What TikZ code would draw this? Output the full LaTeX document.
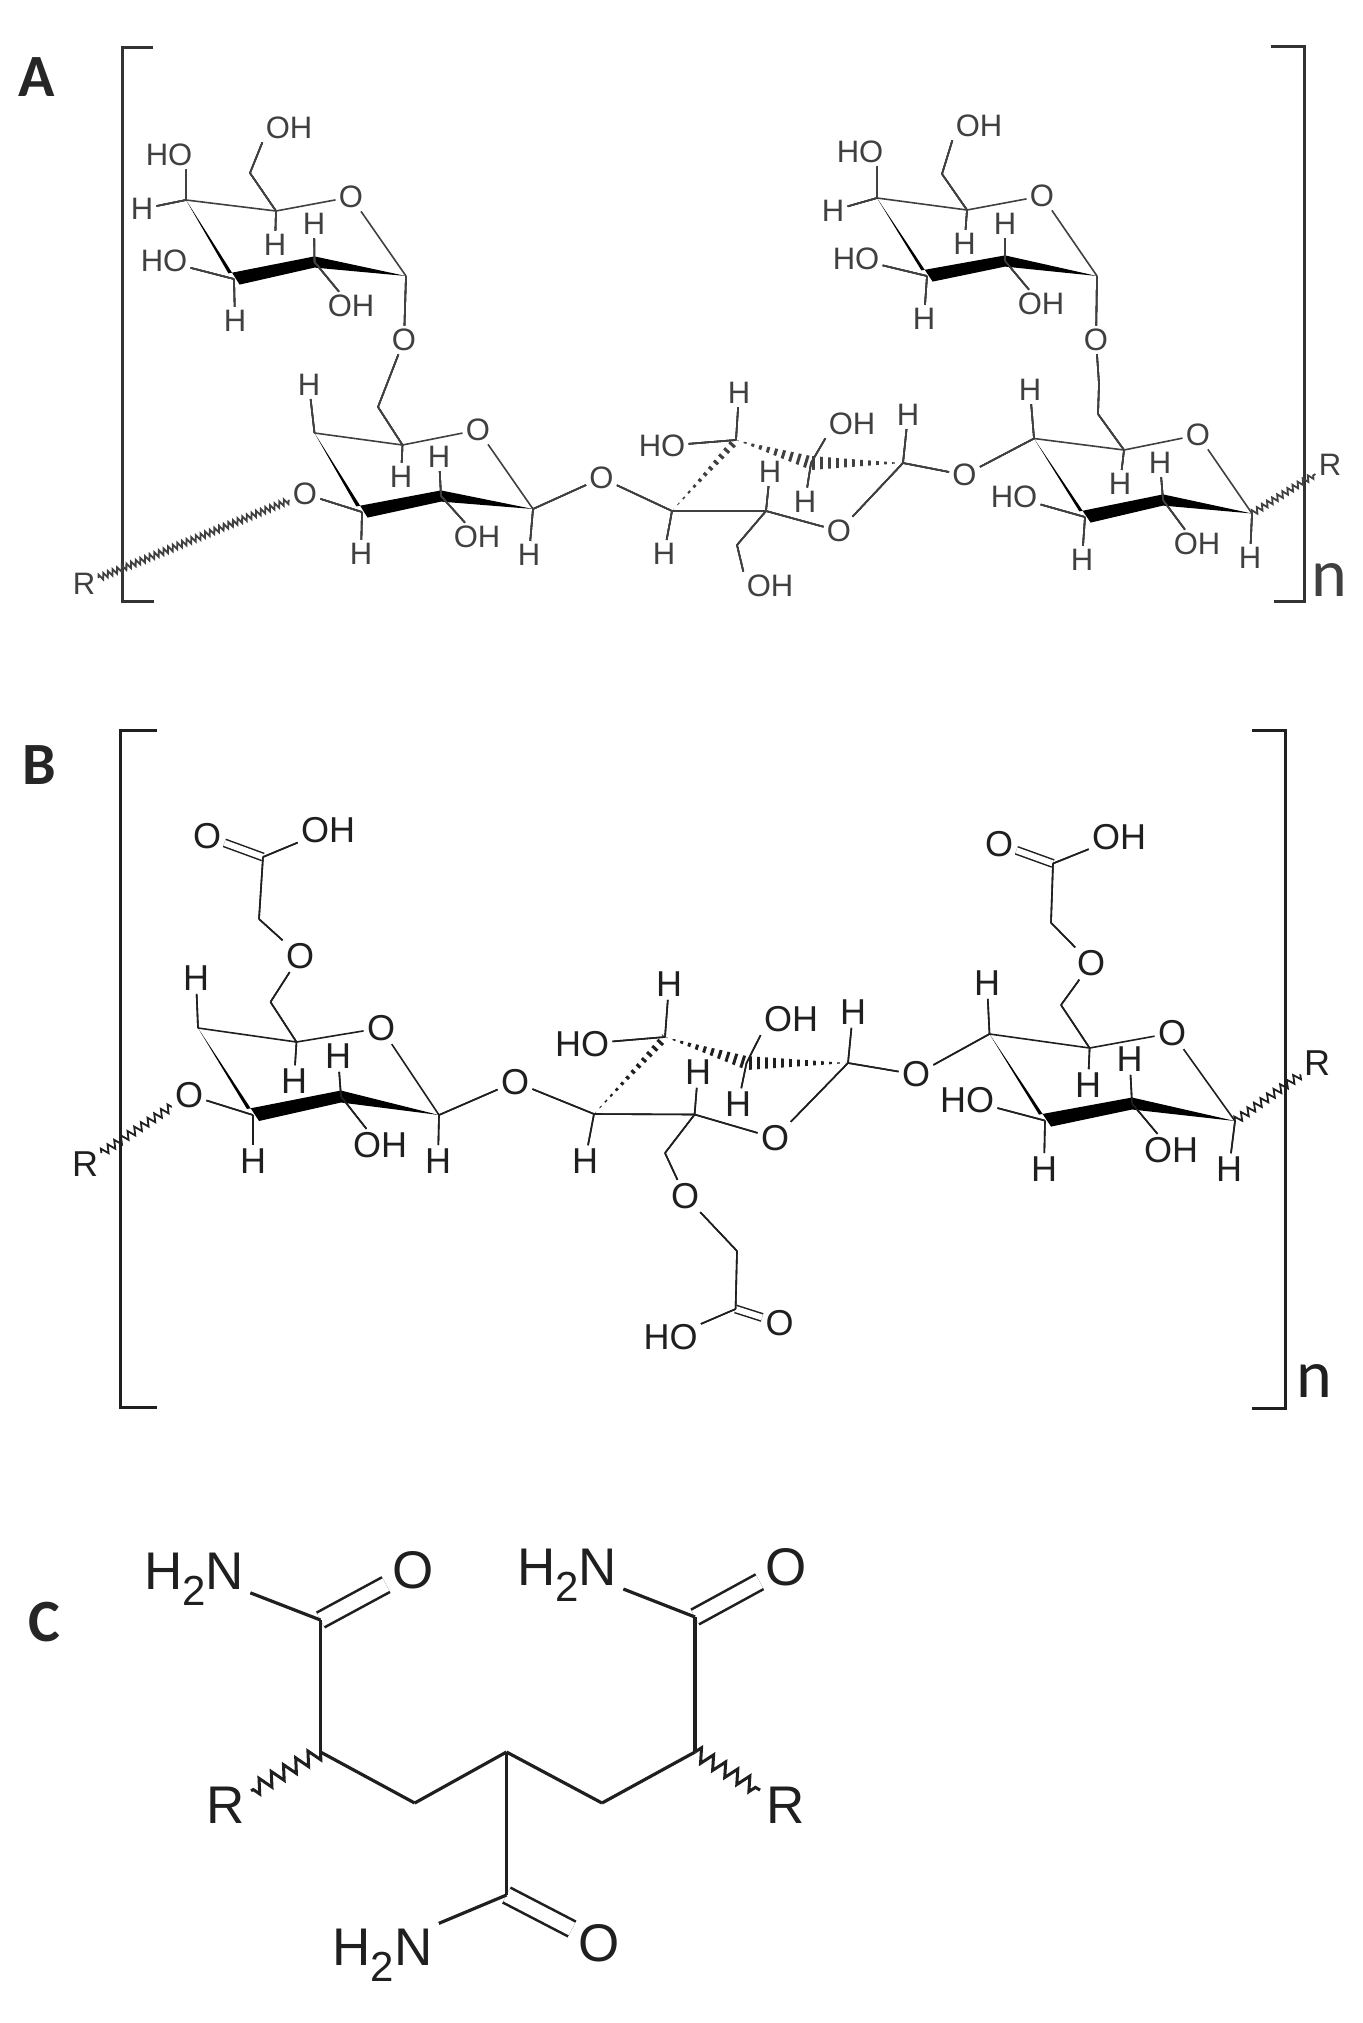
\documentclass[tikz,border=0pt]{standalone}
\usepackage{fontspec}
\usepackage{xcolor}
\usetikzlibrary{calc,decorations.pathmorphing}
\setmainfont{Liberation Sans}
\newfontfamily\panelfont{Carlito}
\colorlet{inka}{black!75}
\colorlet{inkb}{black!88}
\tikzset{
  atoma/.style={inner sep=1.5pt,font=\fontsize{15.5}{16}\selectfont},
  atomb/.style={inner sep=1.5pt,font=\fontsize{18}{19}\selectfont},
  atomc/.style={inner sep=3pt,font=\fontsize{26.5}{27}\selectfont},
  panel/.style={inner sep=0pt,text=black!85,font=\panelfont\bfseries\fontsize{30}{31}\selectfont},
  repeat/.style={inner sep=0pt,font=\panelfont\fontsize{34}{35}\selectfont},
  bond/.style={line width=.8pt},
  boldbond/.style={line width=1.6pt},
  dbond/.style={double=white,double distance=3pt,line width=.75pt},
  wavy/.style={decorate,decoration={zigzag,segment length=3pt,amplitude=1.5pt},line width=.9pt},
  bracket/.style={line width=1.5pt}
}
% back edges and tapered front edge of a ring
\newcommand{\sugarring}[2]{
  \draw[bond] (#1c4) -- (#1c5) -- (#1o);
  \draw[bond] (#1o) -- (#1c1);
  \fill[black] (#1c4) -- ([xshift=-#2,yshift=#2]#1c3) -- ([yshift=#2]#1c2) -- (#1c1)
    -- ([yshift=-#2]#1c2) -- ([xshift=#2,yshift=-#2]#1c3) -- cycle;
}
\newcommand{\hashbond}[3]{
  \begin{scope}
    \clip (#1) -- ([yshift=#3]#2) -- ([yshift=-#3]#2) -- cycle;
    \draw[line width=9pt,dash pattern=on 1.5pt off 2.5pt] (#1) -- (#2);
  \end{scope}
}
\newcommand{\amine}{H\smash{\raisebox{-.3em}{\fontsize{21}{21}\selectfont 2}}N}
\begin{document}
\begin{tikzpicture}[x=.5pt,y=-.5pt]
\useasboundingbox (0,0) rectangle (1363,2023);
\node[panel] (pa) at (37,77) {A};
\node[panel] (pb) at (39,765) {B};
\node[panel] (pc) at (44,1622) {C};

% A
\begin{scope}[color=inka]
\draw[bracket,black!80] (153,48) -- (122,48) -- (122,601) -- (154,601);
\draw[bracket,black!80] (1271,47) -- (1304,47) -- (1304,601) -- (1274,601);
\node[repeat] (na) at (1329,580) {n};
\foreach \n/\x/\y in {a1c1/406/276,a1c2/314.5/262,a1c3/234/279,a1c4/186/200,a1c5/276/211,a1m/250/173,
  a2c1/533/509,a2c2/441/496,a2c3/362/512,a2c4/314.5/433,a2c5/402.5/445,a2m/378/407,
  a3c1/672/511,a3c2/766/511,a3c3/903/463,a3c4/736/440,a3c5/811/463,a3m/737/545,
  a4c1/1252/513.5,a4c2/1163/500,a4c3/1085/517,a4c4/1034/438.5,a4c5/1124/450,a4m/1098/414,a4q/1099/384,
  a5c1/1097/276,a5c2/1005/261,a5c3/927/276,a5c4/877/198,a5c5/967/210,a5m/942/174}
  \coordinate (\n) at (\x,\y);
\foreach \n/\x/\y/\t in {a1o/351/197/O,a1ho/169/155/HO,a1oh/289/128/OH,a1h4/142/209/H,a1h5/275/245/H,
  a1h2/314/224/H,a1ho3/164/261/HO,a1h3/235/321/H,a1oh2/351/306/OH,a1l/404/340/O,
  a2o/478/430/O,a2h4/309/385/H,a2h5/401/477/H,a2h2/439/457/H,a2ol/305/494/O,a2rg/84/584/R,
  a2h3/361/554/H,a2oh/477/537/OH,a2h1/529/555/H,a2l/601.5/478/O,
  a3ho/662/446/HO,a3h4/739/393/H,a3oh/852/424/OH,a3h3/908/415/H,a3h2/770/472/H,a3h5/805/501.5/H,
  a3h1/664/554/H,a3oh2/770/586/OH,a3o/839/531/O,a3l/964.5/475/O,
  a4o/1198/435/O,a4h4/1030/390/H,a4h5/1120/484/H,a4h2/1160/463/H,a4ho/1014/497/HO,a4h3/1082/560/H,
  a4oh/1197/544/OH,a4h1/1250/558/H,a4rg/1330/465/R,a4l/1096/340/O,
  a5o/1042/196/O,a5ho/860/152/HO,a5oh/979/126/OH,a5h4/833/210.5/H,a5h5/964.5/244/H,a5h2/1005/224/H,
  a5ho3/856/259/HO,a5h3/924/319/H,a5oh2/1041/304/OH}
  \node[atoma] (\n) at (\x,\y) {\t};
\foreach \r in {a1,a2,a4,a5}
  \sugarring{\r}{2.8pt}
\foreach \a/\b in {a1c4/a1ho.-40,a1c4/a1h4,a1c5/a1m,a1m/a1oh.south west,a1c5/a1h5,a1c2/a1h2,a1c3/a1ho3,a1c3/a1h3,
  a1c2/a1oh2.130,a1c1/a1l,a1l/a2m,a2m/a2c5,a2c4/a2h4,a2c5/a2h5,a2c2/a2h2,a2c3/a2ol,a2c3/a2h3,a2c2/a2oh.130,
  a2c1/a2h1,a2c1/a2l,a2l/a3c1,a3c1/a3c2,a3c2/a3o,a3o/a3c3,a3c3/a3l,a3l/a4c4,a3c1/a3h1,a3c2/a3h2,
  a3c2/a3m,a3m/a3oh2.north west,a3c4/a3h4,a3c4/a3ho,a3c5/a3oh.south west,a3c5/a3h5,a3c3/a3h3,
  a4c4/a4h4,a4c5/a4h5,a4c2/a4h2,a4c3/a4ho,a4c3/a4h3,a4c2/a4oh.130,a4c1/a4h1,a4c5/a4m,a4m/a4q,a4q/a4l,
  a5c1/a4l,a5c4/a5ho.-40,a5c4/a5h4,a5c5/a5m,a5m/a5oh.south west,a5c5/a5h5,a5c2/a5h2,a5c3/a5ho3,a5c3/a5h3,a5c2/a5oh2.130}
  \draw[bond] (\a) -- (\b);
\hashbond{a3c1}{a3c4}{3pt}
\hashbond{a3c4}{a3c5}{3.5pt}
\hashbond{a3c3}{a3c5}{3.5pt}
\draw[wavy,decoration={segment length=2.5pt}] (a2rg) -- (a2ol);
\draw[wavy] (a4c1) -- (a4rg);
\end{scope}

% B
\begin{scope}[color=inkb]
\draw[bracket] (157,730) -- (120.5,730) -- (120.5,1407) -- (157,1407);
\draw[bracket] (1252,730) -- (1285.5,730) -- (1285.5,1408) -- (1252,1408);
\node[repeat] (nb) at (1314,1381) {n};
\foreach \n/\x/\y in {b1c1/439/1115,b1c2/341/1096.5,b1c3/253/1115,b1c4/198/1028,b1c5/296.5/1042,
  b1m/270.5/1002,b1q/259/919,b1k/263/857,
  b3c1/594/1114,b3c2/694.6/1114.5,b3c3/848/1063,b3c4/665/1037,b3c5/746.5/1063,b3m/665/1153,b3q/737/1251,b3k/735.6/1309,
  b4c1/1235/1121,b4c2/1132/1103.5,b4c3/1045/1120.6,b4c4/989.5/1034,b4c5/1089.6/1048,
  b4m/1061/1005,b4q/1051/922.7,b4k/1053/863.5}
  \coordinate (\n) at (\x,\y);
\foreach \n/\x/\y/\t in {b1o/381/1028/O,b1e/300/956/O,b1h4/196/978/H,b1h5/294/1081/H,b1h2/338/1056/H,b1ol/189/1095/O,
  b1rg/85/1164/R,b1h3/253/1161/H,b1oh/380/1145/OH,b1h1/438/1161/H,b1l/515/1082/O,b1o2/207/836.5/O,b1oh2/328/830/OH,
  b3ho/582/1044/HO,b3h4/669/984/H,b3oh/791/1019/OH,b3h3/853/1012/H,b3h2/698/1072/H,b3h5/738/1104/H,b3h1/585/1161/H,
  b3o/775/1138/O,b3e/685/1196/O,b3o2/779.5/1323/O,b3ho2/670.5/1337/HO,b3l/916/1074.5/O,
  b4o/1172/1033/O,b4e/1091/963.5/O,b4h4/987/983/H,b4h5/1088/1085/H,b4h2/1129.7/1059/H,b4ho/967/1100/HO,b4h3/1044/1169/H,
  b4oh/1171/1150/OH,b4h1/1229/1169/H,b4rg/1317/1063/R,b4o2/999/844/O,b4oh2/1119/837/OH}
  \node[atomb] (\n) at (\x,\y) {\t};
\foreach \a/\b in {b1k/b1o2,b3k/b3o2,b4k/b4o2}
  \draw[dbond] (\a) -- (\b);
\foreach \r in {b1,b4}
  \sugarring{\r}{3pt}
\foreach \a/\b in {b1k/b1oh2,b1k/b1q,b1q/b1e,b1e/b1m,b1m/b1c5,b1c4/b1h4,b1c5/b1h5,b1c2/b1h2,b1c3/b1ol,b1c3/b1h3,
  b1c2/b1oh.130,b1c1/b1h1,b1c1/b1l,b1l/b3c1,b3c1/b3c2,b3c2/b3o,b3o/b3c3,b3c3/b3l,b3l/b4c4,b3c1/b3h1,b3c2/b3h2,
  b3c2/b3m,b3m/b3e,b3e/b3q,b3q/b3k,b3k/b3ho2,b3c4/b3h4,b3c4/b3ho,b3c5/b3oh.south west,b3c5/b3h5,b3c3/b3h3,
  b4c4/b4h4,b4c5/b4h5,b4c2/b4h2,b4c3/b4ho,b4c3/b4h3,b4c2/b4oh.130,b4c1/b4h1,b4c5/b4m,b4m/b4e,b4e/b4q,b4q/b4k,b4k/b4oh2}
  \draw[bond] (\a) -- (\b);
\hashbond{b3c1}{b3c4}{3pt}
\hashbond{b3c4}{b3c5}{3.5pt}
\hashbond{b3c3}{b3c5}{3.5pt}
\draw[wavy,decoration={segment length=4pt,amplitude=2pt}] (b1rg) -- (b1ol);
\draw[wavy,decoration={segment length=4pt,amplitude=2pt}] (b4c1) -- (b4rg);
\end{scope}

% C
\begin{scope}[color=inkb]
\foreach \n/\x/\y in {cc1/320.5/1620,cw1/320.5/1752,cm1/414.7/1803,cc/506.5/1752,cm2/602/1803,cw2/695/1752,cc2/695/1617,cc3/506.5/1895}
  \coordinate (\n) at (\x,\y);
\foreach \n/\x/\y/\t in {cn1/194/1571/\amine,co1/413/1570/O,cn2/567/1567/\amine,co2/786.6/1567/O,
  cr1/225.5/1805/R,cr2/785.6/1805/R,cn3/382.5/1947/\amine,co3/599/1943/O}
  \node[atomc] (\n) at (\x,\y) {\t};
\foreach \a/\b in {cc1/co1,cc2/co2,cc3/co3}
  \draw[dbond,double distance=7pt,line width=1.3pt] (\a) -- (\b);
\foreach \a/\b in {cn1/cc1,cc1/cw1,cw1/cm1,cm1/cc,cc/cm2,cm2/cw2,cw2/cc2,cc2/cn2,cc/cc3,cc3/cn3}
  \draw[boldbond] (\a) -- (\b);
\draw[wavy,line width=1.5pt,decoration={segment length=7pt,amplitude=3.5pt}] (cw1) -- (cr1);
\draw[wavy,line width=1.5pt,decoration={segment length=7pt,amplitude=3.5pt}] (cw2) -- (cr2);
\end{scope}
\end{tikzpicture}
\end{document}
